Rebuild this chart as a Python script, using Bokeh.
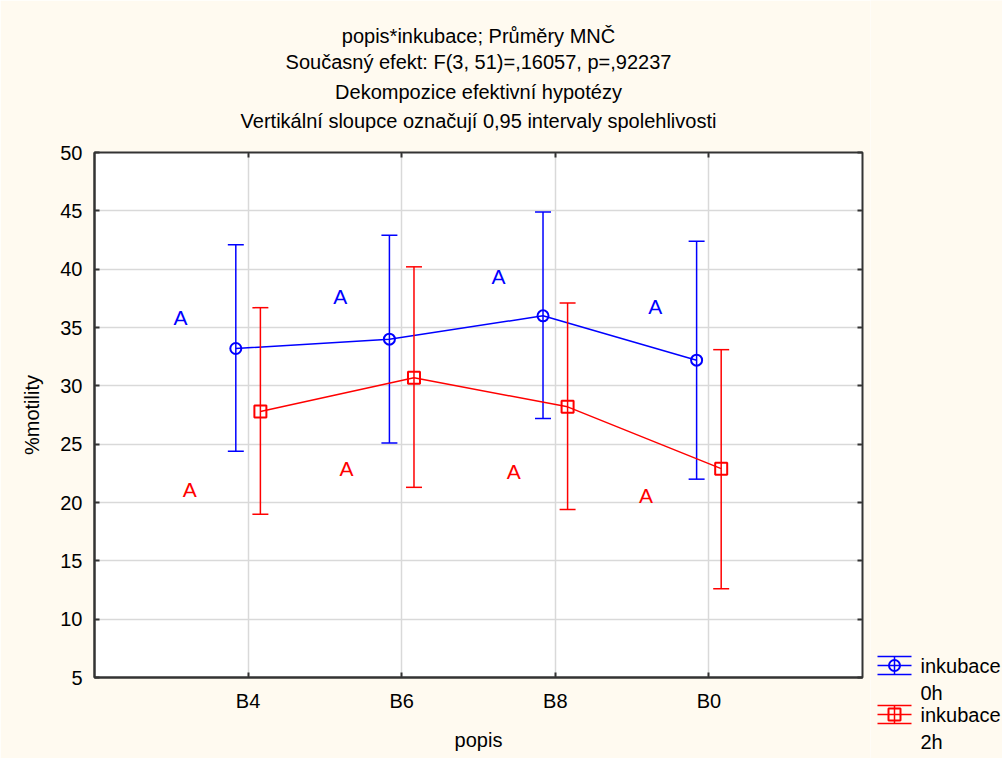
from bokeh.plotting import figure
from bokeh.layouts import row
from bokeh.models import ColumnDataSource, Range1d, FixedTicker, LinearAxis, Title
from bokeh.core.properties import value
from bokeh.embed import file_html
from bokeh.resources import INLINE

# Group means with 0.95 confidence limits
categories = ["B4", "B6", "B8", "B0"]
mean_0h = [33.2, 34.0, 36.0, 32.2]
upper_0h = [42.1, 42.9, 44.9, 42.4]
lower_0h = [24.4, 25.1, 27.2, 22.0]
mean_2h = [27.8, 30.7, 28.2, 22.9]
upper_2h = [36.7, 40.2, 37.1, 33.1]
lower_2h = [19.0, 21.3, 19.4, 12.6]

# Letter labels (homogeneous groups)
letters_0h = ["A", "A", "A", "A"]
letter_pos_0h_x = [0.56, 1.60, 2.63, 3.65]
letter_pos_0h_y = [35.9, 37.7, 39.4, 36.8]
letters_2h = ["A", "A", "A", "A"]
letter_pos_2h_x = [0.62, 1.64, 2.73, 3.59]
letter_pos_2h_y = [21.1, 22.9, 22.7, 20.6]

y_ticks = [5, 10, 15, 20, 25, 30, 35, 40, 45, 50]
titles = ["popis*inkubace; Průměry MNČ",
          "Současný efekt: F(3, 51)=,16057, p=,92237",
          "Dekompozice efektivní hypotézy",
          "Vertikální sloupce označují 0,95 intervaly spolehlivosti"]
title_standoffs = [0, 4, 8]
series_labels = [["inkubace", "0h"], ["inkubace", "2h"]]

FONT = "Liberation Sans"
FS = "20px"
BG = "#FFFAF0"
DARK = "#333333"
BLUE = "#0000FF"
RED = "#FF0000"
OFFSET = 0.08
CAP = 0.052
W_MAIN = 870
W_TOTAL = 1002
H = 758

pos = [i + 1 for i in range(len(categories))]

p = figure(width=W_MAIN, height=H, x_range=Range1d(0, 5), y_range=Range1d(5, 50),
           output_backend="svg", toolbar_location=None,
           min_border_left=94, min_border_right=8, min_border_top=152,
           min_border_bottom=81)
p.background_fill_color = "white"
p.border_fill_color = BG
p.outline_line_color = DARK
p.outline_line_width = 2
p.frame_align = False

for ax in (p.xaxis[0], p.yaxis[0]):
    ax.major_tick_in = 5
    ax.major_tick_out = 0
    ax.minor_tick_line_color = None
    ax.axis_line_color = DARK
    ax.axis_line_width = 2
    ax.major_tick_line_color = DARK
    ax.major_tick_line_width = 2
    ax.major_label_text_font = FONT
    ax.major_label_text_font_size = FS
    ax.major_label_text_color = "black"
    ax.axis_label_text_font = FONT
    ax.axis_label_text_font_size = FS
    ax.axis_label_text_font_style = "normal"
    ax.axis_label_text_color = "black"

p.xaxis.ticker = FixedTicker(ticks=pos)
p.xaxis.major_label_overrides = {k: c for k, c in zip(pos, categories)}
p.xaxis.axis_label = "popis"
p.xaxis.major_label_standoff = 12
p.xaxis.axis_label_standoff = 14
p.yaxis.ticker = FixedTicker(ticks=y_ticks)
p.yaxis.axis_label = "%motility"
p.yaxis.major_label_standoff = 12
p.yaxis.axis_label_standoff = 14

p.xgrid.ticker = FixedTicker(ticks=pos)
p.ygrid.ticker = FixedTicker(ticks=y_ticks)
for g in (p.xgrid[0], p.ygrid[0]):
    g.grid_line_color = "#D9D9D9"
    g.grid_line_width = 1.5

# Inward ticks on the top edge; the last heading line rides on this axis
top_ax = LinearAxis(ticker=FixedTicker(ticks=pos), major_tick_in=5, major_tick_out=0,
                    minor_tick_line_color=None, axis_line_color=DARK,
                    major_tick_line_color=DARK, major_tick_line_width=2,
                    major_label_text_color=None, major_label_standoff=0,
                    major_label_overrides={t: "" for t in pos},
                    axis_label=titles[3], axis_label_standoff=21,
                    axis_label_text_font=FONT, axis_label_text_font_size=FS,
                    axis_label_text_font_style="normal", axis_label_text_color="black")
right_ax = LinearAxis(ticker=FixedTicker(ticks=y_ticks), major_tick_in=5, major_tick_out=0,
                      minor_tick_line_color=None, axis_line_color=DARK,
                      major_tick_line_color=DARK, major_tick_line_width=2,
                      major_label_text_color=None, major_label_standoff=0,
                      major_label_overrides={t: "" for t in y_ticks})
p.add_layout(top_ax, "above")
p.add_layout(right_ax, "right")

for t, s in reversed(list(zip(titles[:3], title_standoffs))):
    p.add_layout(Title(text=t, align="center", text_font=FONT, text_font_size=FS,
                       text_font_style="normal", text_color="black", standoff=s), "above")


def series(means, uppers, lowers, shift, color, marker, size):
    xs = [x + shift for x in pos]
    src = ColumnDataSource(dict(x=xs, y=means, upper=uppers, lower=lowers,
                                xl=[x - CAP for x in xs], xr=[x + CAP for x in xs]))
    p.segment(x0="x", y0="lower", x1="x", y1="upper", source=src, line_color=color, line_width=1.5)
    p.segment(x0="xl", y0="upper", x1="xr", y1="upper", source=src, line_color=color, line_width=1.5)
    p.segment(x0="xl", y0="lower", x1="xr", y1="lower", source=src, line_color=color, line_width=1.5)
    p.line("x", "y", source=src, line_color=color, line_width=1.5)
    p.scatter("x", "y", source=src, marker=marker, size=size, fill_color=None,
              line_color=color, line_width=2)


series(mean_0h, upper_0h, lower_0h, -OFFSET, BLUE, "circle", 11)
series(mean_2h, upper_2h, lower_2h, OFFSET, RED, "square", 12)

p.text(letter_pos_0h_x, letter_pos_0h_y, text=letters_0h, text_color=BLUE,
       text_font_size="21px", text_align="center", text_baseline="middle",
       text_font=value(FONT))
p.text(letter_pos_2h_x, letter_pos_2h_y, text=letters_2h, text_color=RED,
       text_font_size="21px", text_align="center", text_baseline="middle",
       text_font=value(FONT))

# Legend panel: a key strip in page pixel coordinates (y grows downward)
lg = figure(width=W_TOTAL - W_MAIN, height=H, x_range=Range1d(W_MAIN, W_TOTAL),
            y_range=Range1d(H, 0), output_backend="svg", toolbar_location=None,
            x_axis_location=None, y_axis_location=None, title=None,
            min_border_left=0, min_border_right=0, min_border_top=0, min_border_bottom=0,
            outline_line_color=None)
lg.frame_align = False
lg.grid.visible = False
lg.background_fill_color = BG
lg.border_fill_color = BG

key_x0, key_x1, key_cx = 877, 911, 894
key_rows = [665, 714]
key_half = 9
for (lbl, cy, color, marker, size) in zip(series_labels, key_rows, [BLUE, RED],
                                          ["circle", "square"], [11, 12]):
    lg.segment(x0=[key_x0] * 3, x1=[key_x1] * 3,
               y0=[cy - key_half, cy, cy + key_half], y1=[cy - key_half, cy, cy + key_half],
               line_color=color, line_width=1.5)
    lg.segment(x0=[key_cx], x1=[key_cx], y0=[cy - key_half], y1=[cy + key_half],
               line_color=color, line_width=1.5)
    lg.scatter([key_cx], [cy], marker=marker, size=size, fill_color=None,
               line_color=color, line_width=2)
    lg.text([920, 920], [cy, cy + 27], text=lbl, text_color="black",
            text_font=value(FONT), text_font_size=FS, text_baseline="middle")

open("out.html", "w").write(file_html(row(p, lg), INLINE))
